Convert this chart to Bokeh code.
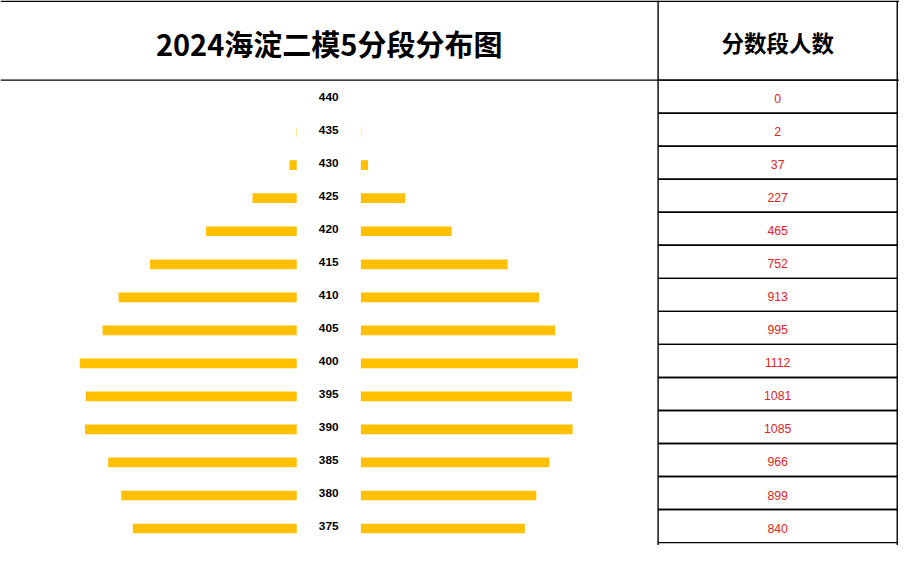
from bokeh.plotting import figure
from bokeh.models import Range1d, ColumnDataSource
from bokeh.transform import dodge
from bokeh.core.properties import value
from bokeh.embed import file_html
from bokeh.resources import INLINE

# ---- data ----
title_text = "2024海淀二模5分段分布图"
header_text = "分数段人数"
scores = [440, 435, 430, 425, 420, 415, 410, 405, 400, 395, 390, 385, 380, 375]
counts = [0, 2, 37, 227, 465, 752, 913, 995, 1112, 1081, 1085, 966, 899, 840]
score_labels = [str(s) for s in scores]
count_labels = [str(c) for c in counts]

src = ColumnDataSource(dict(score=scores, count=counts,
                            score_label=score_labels, count_label=count_labels,
                            top_line=[s + 2.5 for s in scores]))

# ---- layout: the reference is 915x561; it is mapped onto a 899x545 figure ----
W, H = 899, 545
REF_W, REF_H = 915, 561
PX_PER_SCORE = 6.8       # reference px per score unit
ROW0_Y = 99.0            # reference y of the 440 row centre

def score_at(y_ref):
    return scores[0] + (ROW0_Y - y_ref) / PX_PER_SCORE

PX_PER_COUNT = 0.1986    # reference px per person
LEFT_ZERO = 301.5        # reference x where left bars start
RIGHT_ZERO = 366.8       # reference x where right bars start

p = figure(width=W, height=H, output_backend="svg", toolbar_location=None,
           x_range=Range1d(0, REF_W),
           y_range=Range1d(score_at(REF_H), score_at(0)),
           min_border=0, outline_line_color=None, background_fill_color="white",
           border_fill_color="white")
p.axis.visible = False
p.grid.visible = False

p.extra_x_ranges = {
    "right": Range1d((0 - RIGHT_ZERO) / PX_PER_COUNT, (REF_W - RIGHT_ZERO) / PX_PER_COUNT),
    "left": Range1d(LEFT_ZERO / PX_PER_COUNT, -(REF_W - LEFT_ZERO) / PX_PER_COUNT),
}

BAR_H = 10 / PX_PER_SCORE
BAR_COLOR = "#FFC000"
p.hbar(y=dodge("score", -0.37), left=0, right="count", height=BAR_H, source=src,
       x_range_name="left", fill_color=BAR_COLOR, line_color=None)
p.hbar(y=dodge("score", -0.37), left=0, right="count", height=BAR_H, source=src,
       x_range_name="right", fill_color=BAR_COLOR, line_color=None)

# score labels in the centre
p.text(x=334, y="score", text="score_label", source=src,
       text_font=value("Liberation Sans"), text_font_style="bold",
       text_font_size="11.8px", text_color="black",
       text_align="center", text_baseline="middle")

# table grid lines
TABLE_X0, TABLE_X1 = 669.3, 912.7
LW = 1.4
p.segment(x0=0, x1=REF_W, y0=scores[0] + 2.5, y1=scores[0] + 2.5, line_color="black", line_width=LW)
p.segment(x0=TABLE_X0, x1=TABLE_X0, y0=score_at(0), y1=score_at(REF_H), line_color="black", line_width=LW)
p.segment(x0=TABLE_X0, x1=TABLE_X1, y0="top_line", y1="top_line", source=src,
          line_color="black", line_width=LW)
p.segment(x0=TABLE_X0, x1=TABLE_X1, y0=dodge("score", -2.5), y1=dodge("score", -2.5), source=src,
          line_color="black", line_width=LW)
p.segment(x0=0, x1=REF_W, y0=score_at(0.8), y1=score_at(0.8), line_color="black", line_width=LW)
p.segment(x0=TABLE_X1, x1=TABLE_X1, y0=score_at(0), y1=score_at(REF_H), line_color="black", line_width=LW)

# counts in the right column
p.text(x=(TABLE_X0 + TABLE_X1) / 2, y=dodge("score", -0.3), text="count_label", source=src,
       text_font=value("Liberation Sans"), text_font_size="12.3px", text_color="#E02424",
       text_align="center", text_baseline="middle")

# titles
p.text(x=[334.5], y=[score_at(44)], text=[title_text],
       text_font=value("Noto Sans CJK SC"), text_font_style="bold", text_font_size="29px",
       text_color="black", text_align="center", text_baseline="middle")
p.text(x=[(TABLE_X0 + TABLE_X1) / 2], y=[score_at(43)], text=[header_text],
       text_font=value("Noto Sans CJK SC"), text_font_style="bold", text_font_size="22.5px",
       text_color="black", text_align="center", text_baseline="middle")

open("out.html", "w").write(file_html(p, INLINE))
